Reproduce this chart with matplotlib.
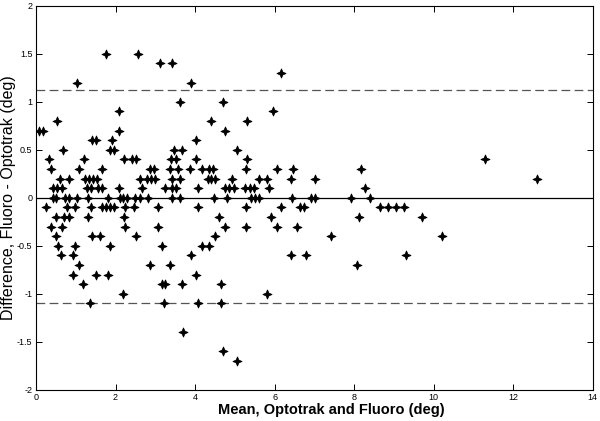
import numpy as np
import matplotlib
matplotlib.use("Agg")
import matplotlib.pyplot as plt
from matplotlib.path import Path

# difference level -> means (deg), one list per level
diff_levels = [1.5, 1.4, 1.3, 1.2, 1.0, 0.9, 0.8, 0.7, 0.6, 0.5, 0.4, 0.3, 0.2, 0.1, 0.0,
               -0.1, -0.2, -0.3, -0.4, -0.5, -0.6, -0.7, -0.8, -0.9, -1.0, -1.1,
               -1.4, -1.6, -1.7]
means_at_level = [
    [1.77, 2.56],
    [3.12, 3.41],
    [6.17],
    [1.02, 3.90],
    [3.61, 4.71],
    [2.08, 5.96],
    [0.52, 4.41, 5.31],
    [0.07, 0.17, 2.08, 4.76],
    [1.41, 1.51, 1.92, 4.02],
    [0.67, 1.87, 1.97, 3.46, 3.66, 5.06],
    [0.32, 1.21, 2.21, 2.41, 2.51, 3.40, 3.51, 4.02, 5.31, 11.3],
    [0.37, 1.08, 1.67, 2.87, 2.97, 3.37, 3.57, 3.87, 4.17, 4.35, 4.45, 5.27,
     6.05, 6.47, 8.16],
    [0.61, 0.82, 1.22, 1.33, 1.43, 1.54, 2.62, 2.80, 2.90, 3.00, 3.41, 3.61,
     4.32, 4.41, 4.49, 4.92, 5.61, 5.82, 6.42, 7.01, 12.6],
    [0.44, 0.54, 0.65, 1.29, 1.38, 1.57, 1.67, 2.08, 2.66, 3.25, 3.43, 3.53,
     4.07, 4.76, 4.86, 4.97, 5.26, 5.37, 5.47, 5.85, 8.26],
    [0.42, 0.51, 0.72, 0.82, 1.03, 1.32, 1.82, 2.10, 2.19, 2.29, 2.50, 2.62,
     2.82, 3.41, 3.61, 4.48, 4.81, 5.40, 5.51, 5.61, 6.43, 6.92, 7.01, 7.91, 8.41],
    [0.26, 0.77, 0.97, 1.38, 1.65, 1.75, 1.85, 1.96, 2.23, 2.46, 3.07, 4.07,
     5.27, 6.17, 6.65, 6.75, 8.64, 8.85, 9.05, 9.25],
    [0.51, 0.71, 0.82, 1.32, 2.21, 4.61, 5.90, 8.11, 9.70],
    [0.37, 0.66, 2.25, 3.07, 4.76, 5.27, 6.05, 6.55],
    [0.51, 1.40, 1.61, 2.51, 4.50, 7.42, 10.21],
    [0.56, 0.97, 1.86, 3.17, 4.17, 4.35],
    [0.62, 0.92, 3.90, 6.42, 6.80, 9.31],
    [1.08, 2.87, 3.36, 8.06],
    [0.92, 1.50, 1.82, 4.02],
    [1.17, 3.17, 3.25, 3.67, 4.66],
    [2.20, 5.81],
    [1.35, 3.23, 4.07, 4.65],
    [3.70],
    [4.70],
    [5.06],
]

mean_diff = 0.0
upper_loa = 1.12
lower_loa = -1.10

x_ticks = [0, 2, 4, 6, 8, 10, 12, 14]
y_ticks = [-2, -1.5, -1, -0.5, 0, 0.5, 1, 1.5, 2]
y_tick_labels = ['-2', '-1.5', '-1', '-0.5', '0', '0.5', '1', '1.5', '2']

xs = np.concatenate([np.array(m) for m in means_at_level])
ys = np.concatenate([np.full(len(m), d) for d, m in zip(diff_levels, means_at_level)])

# thin four-pointed star, like the markers in the original
r_in = 0.3
star = Path([(0, 1), (r_in, r_in), (1, 0), (r_in, -r_in), (0, -1),
             (-r_in, -r_in), (-1, 0), (-r_in, r_in), (0, 1)], closed=True)

plt.rcParams['font.family'] = ['Liberation Sans', 'DejaVu Sans']

fig = plt.figure(figsize=(6.0, 4.21), dpi=100)
ax = fig.add_axes([0.06, 0.074, 0.928, 0.912])

ax.axhline(mean_diff, color='black', lw=0.9)
ax.axhline(upper_loa, color='#555555', lw=0.9, ls=(0, (7, 3.5)))
ax.axhline(lower_loa, color='#555555', lw=0.9, ls=(0, (7, 3.5)))

ax.plot(xs, ys, ls='none', marker=star, ms=6.5, color='black', mew=0.6)

ax.set_xlim(0, 14)
ax.set_ylim(-2, 2)
ax.set_xticks(x_ticks)
ax.set_yticks(y_ticks)
ax.set_yticklabels(y_tick_labels)
ax.tick_params(direction='in', top=True, right=True, labelsize=6.5, length=4,
               width=0.7, pad=2.5)
for s in ax.spines.values():
    s.set_linewidth(0.8)

ax.set_xlabel('Mean, Optotrak and Fluoro (deg)', fontsize=10.5,
              fontweight='bold')
ax.xaxis.set_label_coords(0.53, -0.035)
ax.set_ylabel('Difference, Fluoro - Optotrak (deg)', fontsize=11.5)
ax.yaxis.set_label_coords(-0.036, 0.5)

fig.savefig('out.png', dpi=100)
